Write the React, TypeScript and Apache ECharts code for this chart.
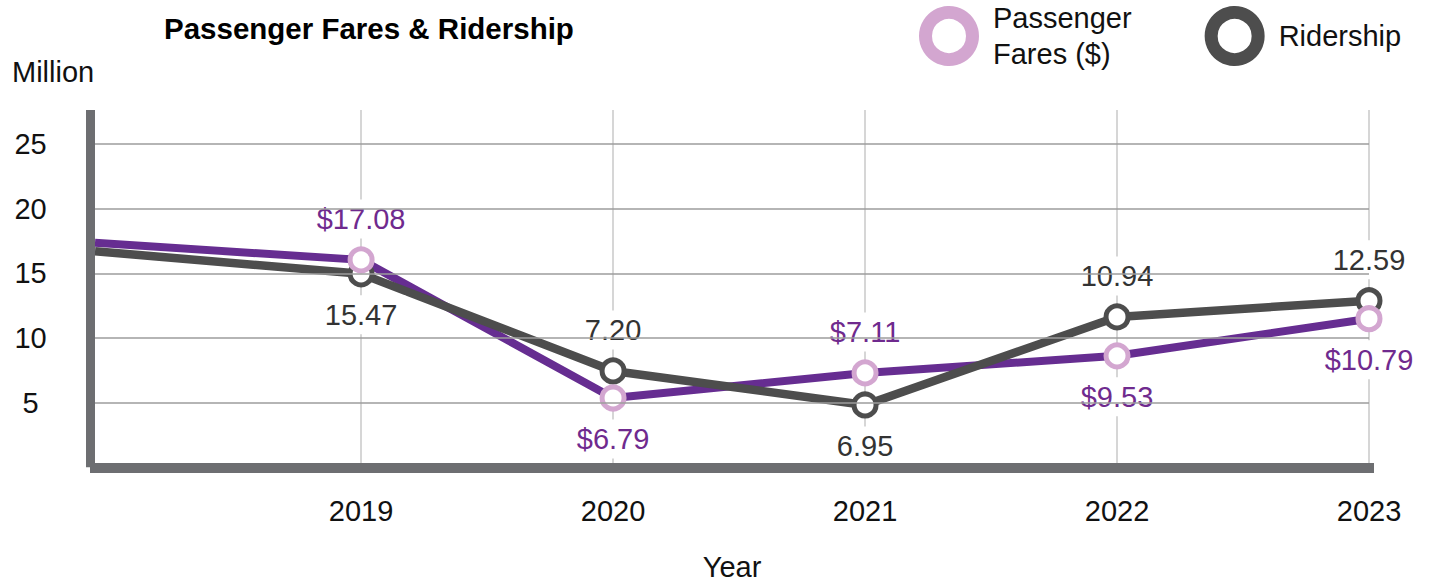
import React, { useEffect, useRef } from 'react';
import * as echarts from 'echarts';

// ---- data ----
const years = [2019, 2020, 2021, 2022, 2023];
const axisStartYear = 2017.944; // left edge of the plot, where both lines begin
const faresLead = 17.36; // fares line value at the left edge
const ridershipLead = 16.7; // ridership line value at the left edge
const faresValues = [16.04, 5.36, 7.3, 8.62, 11.49];
const ridershipValues = [14.96, 7.45, 4.82, 11.63, 12.88];
const faresLabels = ['$17.08', '$6.79', '$7.11', '$9.53', '$10.79'];
const ridershipLabels = ['15.47', '7.20', '6.95', '10.94', '12.59'];
const yMax = 27.63;

// ---- styling ----
const FONT = "'Liberation Sans', Arial, Helvetica, sans-serif";
const faresLabelPos = ['top', 'bottom', 'top', 'bottom', 'bottom'];
const ridershipLabelPos = ['bottom', 'top', 'bottom', 'top', 'top'];
const PURPLE = '#662d91';
const PINK = '#d3a6d0';
const DARK = '#4d4d4d';
const AXIS = '#6d6e71';

export default function App() {
  const ref = useRef<HTMLDivElement>(null);
  useEffect(() => {
    const chart = echarts.init(ref.current!, null, { renderer: 'svg' });
    const faresLine = [[axisStartYear, faresLead], ...years.map((y, i) => [y, faresValues[i]])];
    const ridershipLine = [[axisStartYear, ridershipLead], ...years.map((y, i) => [y, ridershipValues[i]])];

    const labelBase = {
      show: true,
      fontSize: 29,
      fontFamily: FONT,
      backgroundColor: '#fff',
      padding: [5, 8],
      distance: 8,
    };

    chart.setOption({
      animation: false,
      backgroundColor: '#fff',
      title: [
        {
          text: 'Passenger Fares & Ridership',
          left: 164,
          top: 13,
          padding: 0,
          textStyle: { fontSize: 29.5, fontWeight: 'bold', color: '#000', fontFamily: FONT },
        },
        {
          text: 'Million',
          left: 12,
          top: 57,
          padding: 0,
          textStyle: { fontSize: 29, fontWeight: 'normal', color: '#111', fontFamily: FONT },
        },
      ],
      legend: {
        left: 919,
        top: 0,
        padding: 0,
        itemGap: 73,
        itemWidth: 78,
        itemHeight: 47,
        selectedMode: false,
        icon: 'circle',
        data: [
          { name: 'Passenger Fares ($)', itemStyle: { color: '#fff', borderColor: PINK, borderWidth: 13 } },
          { name: 'Ridership', itemStyle: { color: '#fff', borderColor: DARK, borderWidth: 13 } },
        ],
        formatter: (n: string) => (n === 'Passenger Fares ($)' ? 'Passenger\nFares ($)' : n),
        textStyle: { fontSize: 29, lineHeight: 36, color: '#111', fontFamily: FONT },
      },
      grid: { left: 95, right: 63, top: 110, bottom: 117.7, outerBoundsMode: 'none', containLabel: false },
      xAxis: {
        type: 'value',
        min: axisStartYear,
        max: 2023,
        offset: 5,
        z: 20,
        axisLine: { show: true, lineStyle: { color: AXIS, width: 10, cap: 'square' } },
        axisTick: { show: false },
        splitLine: { show: false },
        axisLabel: {
          customValues: years,
          formatter: (v: number) => (years.includes(v) ? String(v) : ''),
          fontSize: 29,
          color: '#111',
          margin: 24,
          fontFamily: FONT,
        },
        name: 'Year',
        nameLocation: 'middle',
        nameGap: 80,
        nameTextStyle: { fontSize: 29, color: '#111', fontFamily: FONT },
      },
      yAxis: {
        type: 'value',
        min: 0,
        max: yMax,
        interval: 5,
        offset: 4.5,
        z: 20,
        axisLine: { show: true, lineStyle: { color: AXIS, width: 9, cap: 'butt' } },
        axisTick: { show: false },
        splitLine: {
          show: true,
          showMinLine: false,
          showMaxLine: false,
          lineStyle: { color: '#9d9d9d', width: 1.5 },
        },
        axisLabel: {
          formatter: (v: number) => (v > 0 && v % 5 === 0 ? String(v) : ''),
          fontSize: 29,
          color: '#111',
          align: 'center',
          margin: 60,
          fontFamily: FONT,
        },
      },
      series: [
        {
          name: 'yearGrid',
          type: 'line',
          data: faresLine,
          symbol: 'none',
          silent: true,
          lineStyle: { opacity: 0 },
          z: 1,
          markLine: {
            silent: true,
            z: 1,
            symbol: ['none', 'none'],
            label: { show: false },
            lineStyle: { color: '#c8c8c8', width: 1.5, type: 'solid' },
            data: years.map((y) => ({ xAxis: y })),
          },
        },
        {
          name: 'Passenger Fares ($)',
          type: 'line',
          data: faresLine,
          symbol: 'none',
          lineStyle: { color: PURPLE, width: 8 },
          itemStyle: { color: PURPLE },
          z: 2,
        },
        {
          name: 'Ridership',
          type: 'line',
          data: ridershipLine,
          symbol: 'none',
          lineStyle: { color: DARK, width: 8.5 },
          itemStyle: { color: DARK },
          z: 3,
        },
        {
          name: 'Ridership',
          type: 'scatter',
          data: years.map((y, i) => ({
            value: [y, ridershipValues[i]],
            label: { position: ridershipLabelPos[i] },
          })),
          symbol: 'circle',
          symbolSize: 22,
          itemStyle: { color: '#fff', borderColor: DARK, borderWidth: 5, opacity: 1 },
          label: {
            ...labelBase,
            color: '#333',
            formatter: (p: any) => ridershipLabels[p.dataIndex],
          },
          z: 8,
        },
        {
          name: 'Passenger Fares ($)',
          type: 'scatter',
          data: years.map((y, i) => ({
            value: [y, faresValues[i]],
            label: { position: faresLabelPos[i] },
          })),
          symbol: 'circle',
          symbolSize: 22,
          itemStyle: { color: '#fff', borderColor: PINK, borderWidth: 5, opacity: 1 },
          label: {
            ...labelBase,
            color: '#6f2a8e',
            formatter: (p: any) => faresLabels[p.dataIndex],
          },
          z: 9,
        },
      ],
    });
    return () => chart.dispose();
  }, []);
  return (
    <div
      ref={ref}
      style={{ position: 'fixed', left: 0, top: 0, width: 1432, height: 585, background: '#fff' }}
    />
  );
}
